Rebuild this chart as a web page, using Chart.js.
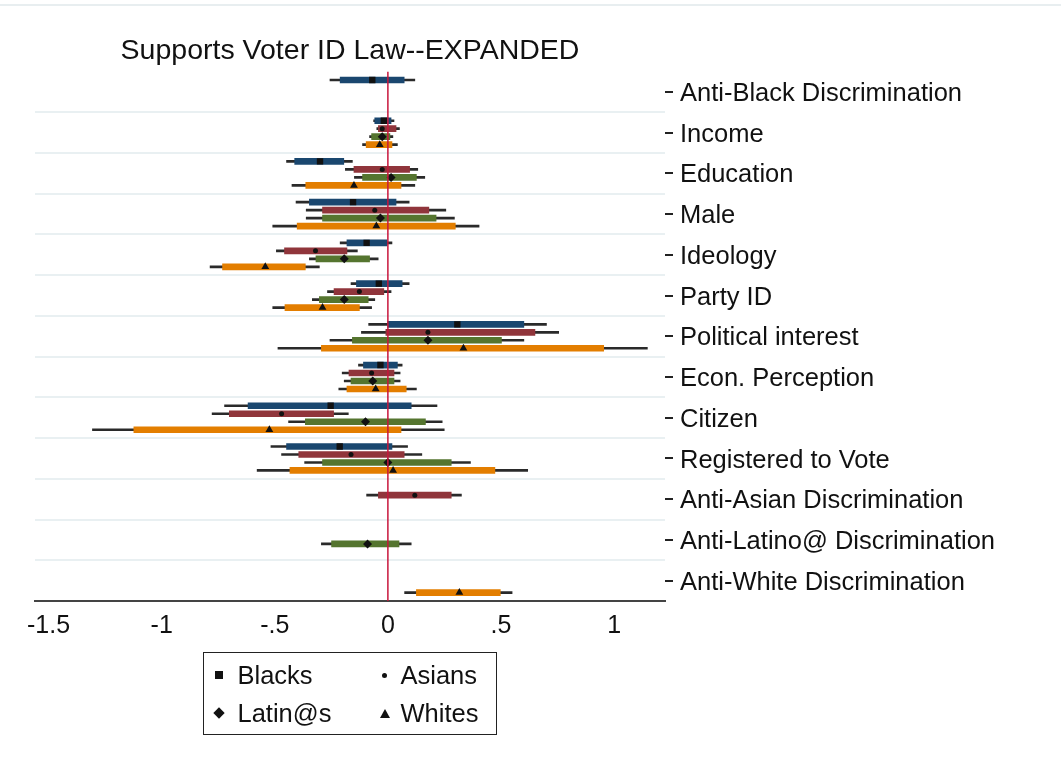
<!DOCTYPE html>
<html>
<head>
<meta charset="utf-8">
<script src="https://cdn.jsdelivr.net/npm/chart.js@4/dist/chart.umd.min.js"></script>
<style>
html, body { margin: 0; padding: 0; background: #fff; }
#wrap { position: relative; width: 1061px; height: 770px; }
#topline { position: absolute; left: 0; top: 4px; width: 1061px; height: 2px; background: #e8eef0; }
#legend { position: absolute; left: 203px; top: 652px; width: 292px; height: 81px; border: 1.5px solid #222;
  font: 25.5px "Liberation Sans", Arial, sans-serif; color: #111; }
.item { position: absolute; line-height: 30px; white-space: nowrap; }
.mk { position: absolute; }
</style>
</head>
<body>
<div id="wrap">
  <canvas id="myChart" width="1061" height="770"></canvas>
  <div id="topline"></div>
  <div id="legend"></div>
</div>
<script>
var categories = ['Anti-Black Discrimination', 'Income', 'Education', 'Male', 'Ideology', 'Party ID',
  'Political interest', 'Econ. Perception', 'Citizen', 'Registered to Vote',
  'Anti-Asian Discrimination', 'Anti-Latino@ Discrimination', 'Anti-White Discrimination'];

var groupNames = ['Blacks', 'Asians', 'Latin@s', 'Whites'];

var xTickValues = [-1.5, -1, -0.5, 0, 0.5, 1];
var xTickLabels = ['-1.5', '-1', '-.5', '0', '.5', '1'];

// point estimates, thick bar (inner CI), thin line (outer CI)
var blacksEst  = [-0.069, -0.018, -0.300, -0.154, -0.094, -0.040, 0.307, -0.033, -0.253, -0.213, null, null, null];
var blacksLo90 = [-0.211, -0.058, -0.412, -0.347, -0.181, -0.139, 0.000, -0.108, -0.618, -0.448, null, null, null];
var blacksHi90 = [0.072, 0.014, -0.195, 0.036, -0.004, 0.063, 0.601, 0.042, 0.103, 0.018, null, null, null];
var blacksLo95 = [-0.256, -0.063, -0.448, -0.406, -0.211, -0.163, -0.085, -0.130, -0.722, -0.517, null, null, null];
var blacksHi95 = [0.119, 0.027, -0.157, 0.094, 0.018, 0.094, 0.701, 0.063, 0.217, 0.087, null, null, null];

var asiansEst  = [null, -0.025, -0.025, -0.058, -0.320, -0.126, 0.177, -0.072, -0.470, -0.163, 0.119, null, null];
var asiansLo90 = [null, -0.042, -0.150, -0.289, -0.457, -0.238, -0.009, -0.172, -0.701, -0.394, -0.042, null, null];
var asiansHi90 = [null, 0.036, 0.096, 0.181, -0.181, -0.018, 0.650, 0.027, -0.240, 0.072, 0.280, null, null];
var asiansLo95 = [null, -0.049, -0.188, -0.361, -0.493, -0.267, -0.117, -0.202, -0.777, -0.470, -0.094, null, null];
var asiansHi95 = [null, 0.051, 0.132, 0.256, -0.135, 0.014, 0.755, 0.054, -0.175, 0.150, 0.325, null, null];

var latinosEst  = [null, -0.025, 0.014, -0.033, -0.193, -0.193, 0.177, -0.067, -0.099, 0.000, null, -0.090, null];
var latinosLo90 = [null, -0.072, -0.112, -0.289, -0.318, -0.303, -0.157, -0.163, -0.365, -0.289, null, -0.249, null];
var latinosHi90 = [null, 0.009, 0.126, 0.213, -0.081, -0.087, 0.502, 0.027, 0.166, 0.280, null, 0.049, null];
var latinosLo95 = [null, -0.081, -0.148, -0.361, -0.347, -0.334, -0.256, -0.193, -0.439, -0.368, null, -0.294, null];
var latinosHi95 = [null, 0.022, 0.163, 0.294, -0.043, -0.058, 0.601, 0.054, 0.240, 0.365, null, 0.103, null];

var whitesEst  = [null, -0.036, -0.150, -0.051, -0.542, -0.289, 0.334, -0.054, -0.524, 0.023, null, null, 0.316];
var whitesLo90 = [null, -0.096, -0.363, -0.401, -0.731, -0.455, -0.294, -0.181, -1.123, -0.433, null, null, 0.126];
var whitesHi90 = [null, 0.018, 0.058, 0.298, -0.365, -0.126, 0.954, 0.081, 0.058, 0.473, null, null, 0.497];
var whitesLo95 = [null, -0.112, -0.424, -0.509, -0.786, -0.509, -0.486, -0.217, -1.306, -0.578, null, null, 0.074];
var whitesHi95 = [null, 0.042, 0.119, 0.403, -0.303, -0.072, 1.147, 0.126, 0.249, 0.618, null, null, 0.549];

var ests = [blacksEst, asiansEst, latinosEst, whitesEst];
var lo90s = [blacksLo90, asiansLo90, latinosLo90, whitesLo90];
var hi90s = [blacksHi90, asiansHi90, latinosHi90, whitesHi90];
var lo95s = [blacksLo95, asiansLo95, latinosLo95, whitesLo95];
var hi95s = [blacksHi95, asiansHi95, latinosHi95, whitesHi95];

var colors = ['#1a476f', '#90353b', '#55752f', '#e37e00'];
var markerStyles = ['rect', 'circle', 'rectRot', 'triangle'];
var markerSizes = [4.5, 2.5, 4.5, 4.5];

var font = "'Liberation Sans', Arial, sans-serif";
var slot = 0.196;  // spacing of the four groups inside one row, in row units
var rowY = (i, k) => i + (k - 1.5) * slot;

// floating bars placed on the row position of each group
var span = (lo, hi, k) => lo.map((v, i) => v === null ? null : {x: [v, hi[i]], y: rowY(i, k)}).filter(p => p);

var datasets = [];
groupNames.forEach((name, k) => {
    datasets.push({
        type: 'bar', label: name + ' inner', yAxisID: 'yPts', data: span(lo90s[k], hi90s[k], k),
        backgroundColor: colors[k], maxBarThickness: 6, order: 2
    });
    datasets.push({
        type: 'bar', label: name + ' outer', yAxisID: 'yPts', data: span(lo95s[k], hi95s[k], k),
        backgroundColor: '#2a2a2a', maxBarThickness: 2, order: 3
    });
    datasets.push({
        type: 'scatter', label: name, indexAxis: 'x', yAxisID: 'yPts',
        data: ests[k].map((v, i) => v === null ? null : {x: v, y: rowY(i, k)}).filter(p => p),
        pointStyle: markerStyles[k], pointRadius: markerSizes[k],
        backgroundColor: '#111', borderWidth: 0, order: 1
    });
});
datasets.push({
    type: 'scatter', label: 'zero', indexAxis: 'x', yAxisID: 'yPts',
    data: [{x: 0, y: -0.5}, {x: 0, y: categories.length - 0.5}],
    showLine: true, borderColor: '#c8163c', borderWidth: 1.5, pointRadius: 0, order: 0
});

var ctx = document.getElementById('myChart').getContext('2d');

var myChart = new Chart(ctx, {
    type: 'bar',
    data: { labels: categories, datasets: datasets },
    options: {
        responsive: false,
        animation: false,
        indexAxis: 'y',
        layout: { padding: { left: 35, right: 0, top: 0, bottom: 125 } },
        datasets: {
            bar: { grouped: false, categoryPercentage: 1, barPercentage: 1, borderWidth: 0 }
        },
        plugins: { legend: { display: false }, tooltip: { enabled: false } },
        scales: {
            x: {
                type: 'linear', position: 'bottom', min: -1.56, max: 1.225, stacked: false,
                grid: { display: false, drawTicks: false },
                border: { display: true, color: '#444', width: 2 },
                afterBuildTicks: s => { s.ticks = xTickValues.map(v => ({value: v})); },
                ticks: {
                    callback: (v, i) => xTickLabels[i],
                    font: { size: 25, family: font }, color: '#111', padding: 10,
                    maxRotation: 0, autoSkip: false
                },
                afterFit: s => { s.height = 44; }
            },
            xTop: {
                type: 'linear', position: 'top', min: -1.56, max: 1.225,
                grid: { display: false, drawTicks: false },
                border: { display: false },
                ticks: { display: false },
                title: {
                    display: true, text: 'Supports Voter ID Law--EXPANDED', color: '#111',
                    font: { size: 28.5, family: font }, padding: { top: 34, bottom: 3.4 }
                }
            },
            y: {
                type: 'category', position: 'right', offset: true,
                grid: { offset: false, drawOnChartArea: false, tickLength: 8, color: '#222', lineWidth: 2 },
                border: { display: false },
                ticks: { font: { size: 25.5, family: font }, color: '#111', padding: 7, autoSkip: false, labelOffset: 2 },
                afterFit: s => { s.width = 396; }
            },
            yGrid: {
                type: 'category', position: 'right', labels: categories, offset: true,
                grid: {
                    offset: true, drawTicks: false, lineWidth: 2,
                    color: c => c.index === 0 ? 'rgba(0,0,0,0)' : '#e9f0f2'
                },
                border: { display: false },
                ticks: { display: false }
            },
            yPts: {
                type: 'linear', display: false, min: -0.5, max: categories.length - 0.5,
                reverse: true, offset: false, grid: { offset: false }
            }
        }
    }
});

// legend box, two columns like the original
var legend = document.getElementById('legend');
var legendPos = [[14.5, 33.5, 22], [180.5, 196.5, 22], [14.5, 33.5, 60], [180.5, 196.5, 60]];
var markerCss = [
    'width:8px;height:8px;background:#111;',
    'width:5px;height:5px;border-radius:50%;background:#111;',
    'width:8px;height:8px;background:#111;transform:rotate(45deg);',
    'width:0;height:0;border-left:5px solid transparent;border-right:5px solid transparent;border-bottom:9px solid #111;'
];
var markerDims = [[8, 8], [5, 5], [8, 8], [10, 9]];
groupNames.forEach((name, k) => {
    var p = legendPos[k];
    var mk = document.createElement('div');
    mk.className = 'mk';
    mk.style.cssText = markerCss[k] + 'left:' + (p[0] - markerDims[k][0] / 2) + 'px;top:' + (p[2] - markerDims[k][1] / 2) + 'px;';
    legend.appendChild(mk);
    var it = document.createElement('div');
    it.className = 'item';
    it.style.left = p[1] + 'px';
    it.style.top = (p[2] - 15) + 'px';
    it.textContent = name;
    legend.appendChild(it);
});
</script>
</body>
</html>
